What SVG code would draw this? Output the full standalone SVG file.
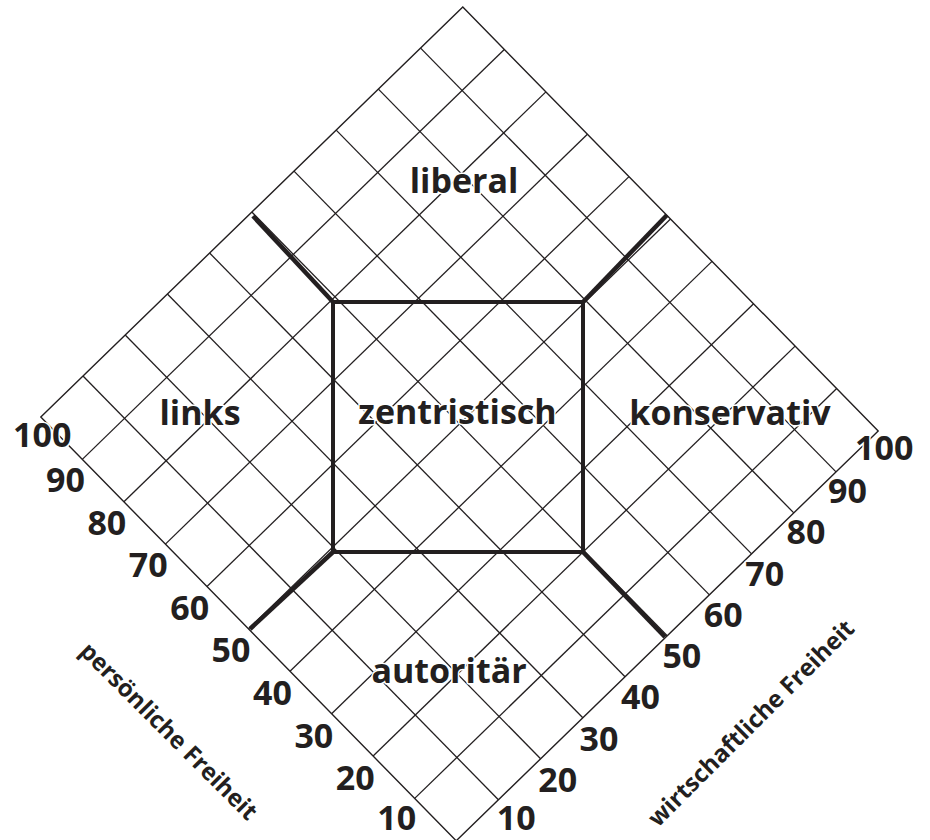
<svg xmlns="http://www.w3.org/2000/svg" width="930" height="840" viewBox="0 0 930 840">
<style>
.bg{fill:#ffffff}
.grid line{stroke:#231f20;stroke-width:1.3;stroke-linecap:butt}
.frame{fill:none;stroke:#231f20;stroke-width:1.4;stroke-linejoin:miter}
.sq{fill:none;stroke:#231f20;stroke-width:4}
.div line{stroke:#231f20;stroke-width:4.5;stroke-linecap:butt}
text{font-family:"Open Sans","Noto Sans","DejaVu Sans",sans-serif;font-weight:700;fill:#231f20;stroke:#ffffff;stroke-width:3;paint-order:stroke;stroke-linejoin:round}
.lab{font-size:34px;text-anchor:middle}
.num{font-size:34px}
.ax{font-size:24px;text-anchor:middle}
</style>
<rect class="bg" x="0" y="0" width="930" height="840"/>
<g id="grid" class="grid">
<line x1="83.0" y1="376.0" x2="498.4" y2="799.8"/>
<line x1="125.2" y1="335.0" x2="540.6" y2="758.8"/>
<line x1="167.4" y1="294.0" x2="582.8" y2="717.8"/>
<line x1="209.6" y1="253.0" x2="625.0" y2="676.8"/>
<line x1="251.8" y1="212.0" x2="667.2" y2="635.8"/>
<line x1="294.0" y1="171.1" x2="709.4" y2="594.9"/>
<line x1="336.2" y1="130.1" x2="751.6" y2="553.9"/>
<line x1="378.4" y1="89.1" x2="793.8" y2="512.9"/>
<line x1="420.6" y1="48.1" x2="836.0" y2="471.9"/>
<line x1="82.3" y1="459.4" x2="504.3" y2="49.5"/>
<line x1="123.9" y1="501.8" x2="545.9" y2="91.9"/>
<line x1="165.4" y1="544.1" x2="587.4" y2="134.2"/>
<line x1="207.0" y1="586.5" x2="629.0" y2="176.6"/>
<line x1="248.5" y1="628.9" x2="670.5" y2="219.0"/>
<line x1="290.0" y1="671.3" x2="712.0" y2="261.4"/>
<line x1="331.6" y1="713.7" x2="753.6" y2="303.8"/>
<line x1="373.1" y1="756.0" x2="795.1" y2="346.1"/>
<line x1="414.7" y1="798.4" x2="836.7" y2="388.5"/>
</g>
<polygon id="frame" class="frame" points="40.8,417 462.8,7.1 878.2,430.9 456.2,840.8"/>
<g id="dividers" class="div">
<line x1="333" y1="302" x2="253" y2="216"/>
<line x1="583" y1="302" x2="667" y2="215"/>
<line x1="333" y1="552" x2="250" y2="629"/>
<line x1="583" y1="552" x2="665" y2="637"/>
</g>
<rect id="center-square" class="sq" x="333" y="302" width="250" height="250"/>
<g id="region-labels">
<g id="liberal"><text class="lab" x="464" y="193">liberal</text></g>
<g id="links"><text class="lab" x="200" y="425">links</text></g>
<g id="zentristisch"><text class="lab" x="457.5" y="424">zentristisch</text></g>
<g id="konservativ"><text class="lab" x="730" y="425">konservativ</text></g>
<g id="autoritaer"><text class="lab" x="449" y="683">autoritär</text></g>
</g>
<g id="scale-left" class="num">
<text x="13" y="447">100</text>
<text x="46" y="492">90</text>
<text x="87.4" y="534.6">80</text>
<text x="128.8" y="577.2">70</text>
<text x="170.2" y="619.8">60</text>
<text x="211.6" y="662.4">50</text>
<text x="253" y="705">40</text>
<text x="294.4" y="747.6">30</text>
<text x="335.8" y="790.2">20</text>
<text x="377.2" y="830">10</text>
</g>
<g id="scale-right" class="num">
<text x="855" y="460">100</text>
<text x="828" y="503">90</text>
<text x="786.6" y="544.3">80</text>
<text x="745.2" y="585.5">70</text>
<text x="703.8" y="626.8">60</text>
<text x="662.4" y="668">50</text>
<text x="621" y="709.3">40</text>
<text x="579.6" y="750.5">30</text>
<text x="538.2" y="791.8">20</text>
<text x="496.8" y="830">10</text>
</g>
<g id="axis-left"><text class="ax" transform="translate(163,737) rotate(45)">persönliche Freiheit</text></g>
<g id="axis-right"><text class="ax" transform="translate(757,729) rotate(-45)">wirtschaftliche Freiheit</text></g>
</svg>
